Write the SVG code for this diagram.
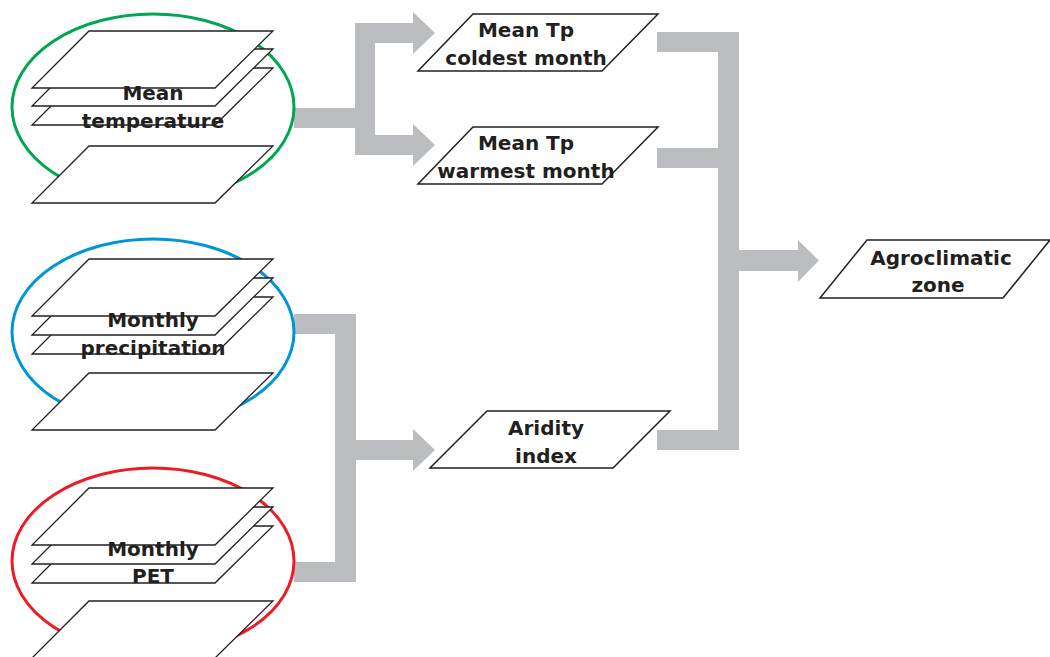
<svg xmlns="http://www.w3.org/2000/svg" xmlns:xlink="http://www.w3.org/1999/xlink" width="1050" height="657" viewBox="0 0 1050 657">
<style>
.layer{fill:#fff;stroke:#231f20;stroke-width:1.3;stroke-linejoin:miter}
.node{fill:#fff;stroke:#231f20;stroke-width:1.5}
.ring{fill:none;stroke-width:3}
.lbl{font-family:"DejaVu Sans",sans-serif;font-weight:bold;font-size:20px;fill:#231f20;text-anchor:middle}
.conn{fill:#bcbdc0}
</style>
<defs>
<polygon id="lay" points="89,0 273,0 215,57 32,57"/>
</defs>
<g id="connectors" class="conn">
<rect x="294" y="108" width="81" height="20"/>
<rect x="355" y="23" width="20" height="132"/>
<rect x="355" y="23" width="59" height="20"/>
<polygon points="413,12 435,33 413,54"/>
<rect x="355" y="135" width="59" height="20"/>
<polygon points="413,124 435,145 413,166"/>
<rect x="657" y="32" width="82" height="20"/>
<rect x="657" y="148" width="82" height="20"/>
<rect x="657" y="430" width="82" height="20"/>
<rect x="718" y="32" width="21" height="418"/>
<rect x="738" y="250" width="61" height="21"/>
<polygon points="798,240 819,260.5 798,282"/>
<rect x="294" y="314" width="62" height="20"/>
<rect x="335" y="314" width="21" height="268"/>
<rect x="294" y="562" width="62" height="20"/>
<rect x="355" y="440" width="59" height="20"/>
<polygon points="413,429 435,450 413,471"/>
</g>
<g id="mean-temperature">
<ellipse class="ring" cx="153" cy="107" rx="141" ry="93" stroke="#00a651"/>
<use xlink:href="#lay" class="layer" y="146"/>
<use xlink:href="#lay" class="layer" y="68"/>
<use xlink:href="#lay" class="layer" y="49"/>
<use xlink:href="#lay" class="layer" y="31"/>
<text class="lbl" x="153" y="100">Mean</text>
<text class="lbl" x="153" y="128">temperature</text>
</g>
<g id="monthly-precipitation">
<ellipse class="ring" cx="153" cy="332" rx="141" ry="93" stroke="#0095da"/>
<use xlink:href="#lay" class="layer" y="373"/>
<use xlink:href="#lay" class="layer" y="297"/>
<use xlink:href="#lay" class="layer" y="278"/>
<use xlink:href="#lay" class="layer" y="259"/>
<text class="lbl" x="153" y="327">Monthly</text>
<text class="lbl" x="153" y="355">precipitation</text>
</g>
<g id="monthly-pet">
<ellipse class="ring" cx="153" cy="561" rx="141" ry="93" stroke="#ed1c24"/>
<use xlink:href="#lay" class="layer" y="601"/>
<use xlink:href="#lay" class="layer" y="526"/>
<use xlink:href="#lay" class="layer" y="507"/>
<use xlink:href="#lay" class="layer" y="488"/>
<text class="lbl" x="153" y="556">Monthly</text>
<text class="lbl" x="153" y="583">PET</text>
</g>
<g id="tp-coldest">
<polygon class="node" points="473,14 658,14 602,71 418,71"/>
<text class="lbl" x="526" y="37">Mean Tp</text>
<text class="lbl" x="526" y="65">coldest month</text>
</g>
<g id="tp-warmest">
<polygon class="node" points="473,127 658,127 602,184 418,184"/>
<text class="lbl" x="526" y="150">Mean Tp</text>
<text class="lbl" x="526" y="178">warmest month</text>
</g>
<g id="aridity">
<polygon class="node" points="487,411 670,411 613,468 430,468"/>
<text class="lbl" x="546" y="435">Aridity</text>
<text class="lbl" x="546" y="463">index</text>
</g>
<g id="agroclimatic">
<polygon class="node" points="867,240 1050,240 1003,298 820,298"/>
<text class="lbl" x="941" y="265">Agroclimatic</text>
<text class="lbl" x="938" y="292">zone</text>
</g>
</svg>
